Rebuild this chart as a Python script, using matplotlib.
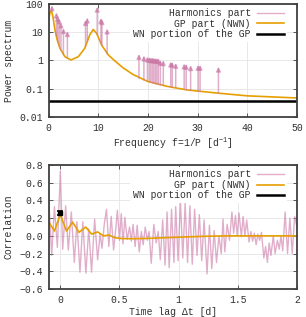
import numpy as np
import matplotlib
matplotlib.use("Agg")
import matplotlib.pyplot as plt
from matplotlib.ticker import FixedLocator, FixedFormatter

plt.rcParams['font.family'] = ['Liberation Mono', 'DejaVu Sans Mono']
plt.rcParams['font.size'] = 7
plt.rcParams['mathtext.default'] = 'regular'
plt.rcParams['axes.unicode_minus'] = True

# Okabe-Ito colours (gnuplot-like look)
c_harm = '#cc79a7'
c_gp = '#e69f00'
c_wn = 'black'
c_frame = '#404040'
c_grid = '#e4e4e4'

# --- Top panel: power spectrum ---
gp_f = [0, 0.3, 0.6, 0.9, 1.3, 1.8, 2.3, 3.3, 4.5, 6.0, 7.3, 8.3, 9.0, 9.7,
        10.7, 12.0, 13.4, 15, 17, 20, 24, 28, 34, 40, 50]
gp_psd = [25, 50, 57, 35, 12, 5, 2.7, 1.36, 1.04, 1.36, 2.7, 8, 12.5, 9,
          3.5, 1.6, 0.95, 0.55, 0.32, 0.18, 0.12, 0.09, 0.07, 0.056, 0.047]

harm_f = [0.7, 1.6, 1.85, 2.15, 2.5, 3.0, 3.8, 7.45, 7.8, 9.8, 10.55, 10.75, 11.8,
          18.2, 19.2, 19.9, 20.3, 20.6, 20.9, 21.2, 21.5, 21.8, 22.1, 22.5, 23.1,
          24.6, 24.9, 25.6, 27.3, 27.7, 28.6, 30.1, 30.5, 34.2]
harm_top = [90, 50, 38, 31, 22, 14, 11, 27, 33, 80, 32, 29, 13.5,
            1.7, 1.5, 1.38, 1.35, 1.3, 1.3, 1.28, 1.25, 1.25, 1.22, 1.05, 1.02,
            0.92, 0.9, 0.82, 0.78, 0.76, 0.68, 0.7, 0.7, 0.6]
harm_base = [55, 7.5, 4.8, 3.5, 2.4, 1.6, 1.2, 3.2, 5, 8.5, 4, 3.4, 1.75,
             0.23, 0.2, 0.185, 0.177, 0.17, 0.163, 0.157, 0.152, 0.147, 0.142, 0.137, 0.13,
             0.117, 0.114, 0.11, 0.095, 0.093, 0.088, 0.082, 0.08, 0.069]
wn_psd = 0.036

# --- Bottom panel: correlation ---
harm_lag = [-0.098, -0.073, -0.05, -0.025, 0.0, 0.02, 0.045, 0.067, 0.093, 0.118,
            0.14, 0.166, 0.19, 0.216, 0.24, 0.264, 0.29, 0.315, 0.336, 0.352,
            0.372, 0.39, 0.41, 0.43, 0.45, 0.47, 0.482, 0.50, 0.515, 0.53,
            0.545, 0.565, 0.585, 0.60, 0.615, 0.632, 0.65, 0.667, 0.685, 0.70,
            0.718, 0.735, 0.75, 0.768, 0.79, 0.81, 0.827, 0.845, 0.865, 0.885,
            0.902, 0.92, 0.94, 0.96, 0.975, 0.995, 1.015, 1.035, 1.055, 1.075,
            1.095, 1.115, 1.135, 1.155, 1.175, 1.195, 1.215, 1.24, 1.26, 1.28,
            1.30, 1.32, 1.34, 1.36, 1.375, 1.39, 1.41, 1.43, 1.45, 1.465,
            1.48, 1.495, 1.51, 1.53, 1.545, 1.56, 1.575, 1.595, 1.61, 1.625,
            1.64, 1.655, 1.67, 1.685, 1.70, 1.72, 1.735, 1.75, 1.765, 1.78,
            1.80, 1.815, 1.835, 1.85, 1.865, 1.88, 1.90, 1.92, 1.94, 1.96,
            1.98, 2.0]
harm_corr = [0.43, -0.22, 0.33, -0.13, 0.73, -0.15, 0.34, -0.16, 0.27, -0.30,
             0.16, -0.41, 0.16, -0.42, 0.08, -0.41, 0.19, -0.27, 0.02, -0.14,
             0.14, 0.30, -0.12, 0.22, -0.16, 0.10, 0.29, -0.05, 0.25, -0.09,
             0.21, -0.04, 0.10, -0.06, 0.13, -0.12, 0.12, -0.18, 0.05, -0.10,
             0.10, -0.05, 0.05, -0.31, 0.13, -0.08, 0.05, -0.27, 0.18, -0.33,
             0.27, -0.36, 0.30, -0.30, 0.33, -0.28, 0.40, -0.25, 0.37, -0.30,
             0.34, -0.32, 0.30, -0.22, 0.24, -0.28, 0.18, -0.43, 0.12, -0.37,
             0.06, -0.30, 0.0, -0.20, 0.19, -0.18, 0.13, -0.05, 0.27, 0.03,
             0.23, 0.0, 0.26, -0.01, 0.22, 0.0, 0.18, -0.07, 0.05, -0.06,
             0.03, -0.10, 0.02, -0.05, 0.04, -0.25, -0.12, -0.30, -0.08, -0.22,
             0.0, -0.20, -0.05, -0.15, 0.0, -0.17, 0.27, -0.20, 0.20, -0.20,
             0.22, 0.10]

gp_lag = [-0.1, -0.05, 0.0, 0.052, 0.104, 0.158, 0.214, 0.265, 0.315, 0.365,
          0.41, 0.46, 0.52, 0.6, 0.7, 0.8, 0.9, 1.0, 1.1, 1.2, 1.4, 1.6, 1.8, 2.0]
gp_corr = [0.16, 0.055, 0.24, 0.055, 0.155, 0.04, 0.10, 0.02, 0.045, 0.0,
           0.01, -0.02, -0.03, -0.032, -0.03, -0.025, -0.02, -0.015, -0.01, -0.005,
           0.0, 0.0, 0.0, 0.0]
wn_lag = 0.0
wn_corr = 0.26
wn_err = 0.02

labels = ['Harmonics part', 'GP part (NWN)', 'WN portion of the GP']


def style_axes(ax):
    for s in ax.spines.values():
        s.set_color(c_frame)
        s.set_linewidth(1.3)
    ax.tick_params(which='both', direction='in', top=True, right=True,
                   length=3, width=0.6, color=c_frame, labelcolor='#303030', pad=4)
    ax.tick_params(which='minor', length=0)
    ax.grid(True, color=c_grid, lw=0.6)
    ax.set_axisbelow(True)


def add_legend(ax, handles):
    leg = ax.legend(handles, labels, loc='upper right', bbox_to_anchor=(0.965, 1.0),
                    markerfirst=False, frameon=True, facecolor='white', edgecolor='none',
                    framealpha=1, fancybox=False, borderpad=0.3, borderaxespad=0.15,
                    labelspacing=0.05, handlelength=2.8, handletextpad=0.6, fontsize=7)
    for t in leg.get_texts():
        t.set_color('#303030')
    return leg


fig = plt.figure(figsize=(3.06, 3.17), dpi=100)

# Top panel
ax1 = fig.add_axes([0.1585, 0.631, 0.812, 0.3565])
for f, b, t in zip(harm_f, harm_base, harm_top):
    ax1.annotate('', xy=(f, t), xytext=(f, b),
                 arrowprops=dict(arrowstyle='-|>', color=c_harm, alpha=0.6,
                                 lw=1.1, mutation_scale=6.5, shrinkA=0, shrinkB=0))
h1, = ax1.plot([], [], color=c_harm, alpha=0.6, lw=1.0)
h2, = ax1.plot(gp_f, gp_psd, color=c_gp, lw=1.2)
h3 = ax1.axhline(wn_psd, color=c_wn, lw=1.8)
ax1.set_yscale('log')
ax1.set_xlim(0, 50)
ax1.set_ylim(0.01, 100)
ax1.yaxis.set_major_locator(FixedLocator([0.01, 0.1, 1, 10, 100]))
ax1.yaxis.set_major_formatter(FixedFormatter(['0.01', '0.1', '1', '10', '100']))
ax1.set_xticks([0, 10, 20, 30, 40, 50])
ax1.set_xlabel('Frequency f=1/P [d$^{-1}$]', color='#303030', labelpad=2)
ax1.set_ylabel('Power spectrum', color='#303030', labelpad=4)
style_axes(ax1)
add_legend(ax1, [h1, h2, h3])

# Bottom panel
ax2 = fig.add_axes([0.1585, 0.0883, 0.812, 0.391])
g1, = ax2.plot(harm_lag, harm_corr, color=c_harm, alpha=0.6, lw=1.0)
g2, = ax2.plot(gp_lag, gp_corr, color=c_gp, lw=1.2)
ax2.errorbar([wn_lag], [wn_corr], yerr=[wn_err], fmt='s', color=c_wn, ms=2.5,
             capsize=2, elinewidth=1.2, capthick=1.2)
g3, = ax2.plot([], [], color=c_wn, lw=1.8)
ax2.set_xlim(-0.1, 2)
ax2.set_ylim(-0.6, 0.8)
ax2.set_xticks([0, 0.5, 1, 1.5, 2])
ax2.set_xticklabels(['0', '0.5', '1', '1.5', '2'])
ax2.set_yticks(np.round(np.arange(-0.6, 0.81, 0.2), 1))
ax2.set_xlabel('Time lag \u0394t [d]', color='#303030', labelpad=2)
ax2.set_ylabel('Correlation', color='#303030', labelpad=4)
style_axes(ax2)
add_legend(ax2, [g1, g2, g3])

fig.savefig('out.png', dpi=100)
